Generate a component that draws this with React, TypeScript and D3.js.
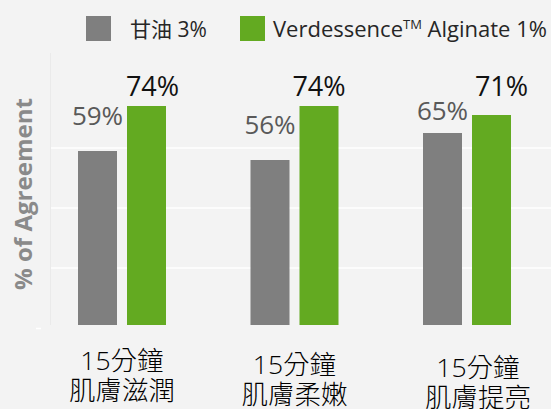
import React from "react";
import * as d3 from "d3";

const categoriesLine1 = ["15分鐘", "15分鐘", "15分鐘"];
const categoriesLine2 = ["肌膚滋潤", "肌膚柔嫩", "肌膚提亮"];
const categories = ["c1", "c2", "c3"];
const seriesNames = ["甘油 3%", "Verdessence Alginate 1%"];
const glycerinValues = [59, 56, 65];
const alginateValues = [74, 74, 71];
const gridTicks = [20, 40, 60];

const W = 551;
const H = 409;
const BG = "#f3f3f3";
const GRAY = "#7f7f7f";
const GREEN = "#63aa21";
const FONT = "'Open Sans', 'Noto Sans CJK TC', sans-serif";

// manual label nudges seen in the reference
const grayLift = [26, 26, 13];
const greenLift = [10, 10, 19];
const greenNudgeX = [6, 0, 10];
const catNudgeX = [0, 0, 11];
const catNudgeY = [0, 4, 7];

export default function App() {
  const x0 = d3.scaleBand<string>().domain(categories).range([35.75, 553.25]).paddingInner(0);
  const x1 = d3.scaleBand<string>().domain(["g", "a"]).range([0, 88]).paddingInner(10 / 49);
  const y = d3.scaleLinear().domain([0, 100]).range([328, 28]);
  const plotBottom = 325;
  const center = (c: string) => (x0(c) as number) + x0.bandwidth() / 2;
  const barX = (c: string, s: string) => center(c) - 44 + (x1(s) as number);

  return (
    <svg width={W} height={H} style={{ position: "absolute", left: 0, top: 0 }} fontFamily={FONT}>
      <rect x={0} y={0} width={W} height={H} fill={BG} />
      {/* plot frame */}
      <line x1={50.5} x2={50.5} y1={53} y2={plotBottom} stroke="#eaeaea" strokeWidth={1} />
      <line x1={36} x2={41} y1={y(0) + 0.5} y2={y(0) + 0.5} stroke="#ffffff" strokeWidth={1.5} />
      {gridTicks.map((t) => (
        <line key={t} x1={51} x2={W} y1={y(t)} y2={y(t)} stroke="#ffffff" strokeWidth={1.5} />
      ))}

      {/* y-axis title */}
      <text
        transform={`translate(32,194) rotate(-90)`}
        textAnchor="middle"
        fontSize={24}
        fontWeight="bold"
        fill="#8a8a8a"
        textLength={192}
        lengthAdjust="spacingAndGlyphs"
      >
        % of Agreement
      </text>

      {/* bars */}
      {categories.map((c, i) => (
        <g key={c}>
          <rect x={barX(c, "g")} y={y(glycerinValues[i])} width={x1.bandwidth()} height={plotBottom - y(glycerinValues[i])} fill={GRAY} />
          <rect x={barX(c, "a")} y={y(alginateValues[i])} width={x1.bandwidth()} height={plotBottom - y(alginateValues[i])} fill={GREEN} />
          <text
            x={barX(c, "g") + x1.bandwidth() / 2}
            y={y(glycerinValues[i]) - grayLift[i]}
            textAnchor="middle"
            fontSize={26}
            fill="#595959"
          >
            {glycerinValues[i]}%
          </text>
          <text
            x={barX(c, "a") + x1.bandwidth() / 2 + greenNudgeX[i]}
            y={y(alginateValues[i]) - greenLift[i]}
            textAnchor="middle"
            fontSize={27}
            fill="#111111"
          >
            {alginateValues[i]}%
          </text>
          <text
            x={center(c) + catNudgeX[i]}
            y={370 + catNudgeY[i]}
            textAnchor="middle"
            fontSize={26.5}
            fontWeight={300}
            fill="#000000"
          >
            {categoriesLine1[i]}
          </text>
          <text
            x={center(c) + catNudgeX[i]}
            y={400 + catNudgeY[i]}
            textAnchor="middle"
            fontSize={26.5}
            fontWeight={300}
            fill="#000000"
          >
            {categoriesLine2[i]}
          </text>
        </g>
      ))}

      {/* legend */}
      <rect x={86} y={16} width={25} height={25} fill={GRAY} />
      <text x={130} y={37} fontSize={21} fill="#262626">
        {seriesNames[0]}
      </text>
      <rect x={240} y={16} width={25} height={25} fill={GREEN} />
      <text x={273} y={37} fontSize={22} fill="#262626">
        Verdessence
        <tspan fontSize={13} dy={-8}>TM</tspan>
        <tspan dy={8}> Alginate 1%</tspan>
      </text>
    </svg>
  );
}
